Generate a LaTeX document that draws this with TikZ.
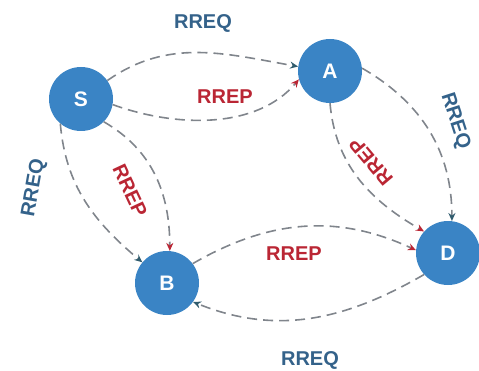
\documentclass[tikz,border=0pt]{standalone}
\usepackage{fontspec}
\setsansfont{Liberation Sans}
\usetikzlibrary{arrows.meta}
\definecolor{nodeBlue}{RGB}{58,132,197}
\definecolor{reqBlue}{RGB}{52,98,138}
\definecolor{repRed}{RGB}{186,38,52}
\definecolor{linkGray}{RGB}{128,133,140}
\definecolor{tipTeal}{RGB}{48,92,110}
\tikzset{
    font=\sffamily,
    >=Stealth,
    % Nodes
    station/.style={circle, fill=nodeBlue, text=white, minimum size=64pt, inner sep=0pt,
                    font=\sffamily\bfseries\fontsize{21}{21}\selectfont},
    % Flow & Labels
    flow/.style={line width=1.6pt, linkGray, dash pattern=on 10pt off 6pt},
    reqFlow/.style={flow, -{Stealth[length=8pt, width=7pt, color=tipTeal]}},
    repFlow/.style={flow, -{Stealth[length=8pt, width=7pt, color=repRed]}},
    lbl/.style={inner sep=0pt, font=\sffamily\bfseries\fontsize{20}{20}\selectfont},
    reqLbl/.style={lbl, text=reqBlue},
    repLbl/.style={lbl, text=repRed}
}

\begin{document}
\begin{tikzpicture}[x=1pt, y=1pt]
\useasboundingbox (0,0) rectangle (479,370);

\node[station] (S) at (81,271) {S};
\node[station] (A) at (330,299) {A};
\node[station] (B) at (167,87) {B};
\node[station] (D) at (448,117) {D};

% RREQ flooding
\draw[reqFlow] (S.35) to[out=35, in=170] (A.172);
\draw[reqFlow] (S.-130) to[out=-85, in=140] (B.140);
\draw[reqFlow] (A.5) to[out=-30, in=90] (D.83);
\draw[reqFlow] (D.222) to[out=210, in=-22] (B.-36);

% RREP back to source
\draw[repFlow] (S.-10) to[out=-20, in=230, looseness=0.9] (A.195);
\draw[repFlow] (S.-45) to[out=-30, in=90] (B.85);
\draw[repFlow] (A.-90) to[out=-85, in=150] (D.138);
\draw[repFlow] (B.37) to[out=30, in=155] (D.175);

\node[reqLbl] (reqSA) at (203,347) {RREQ};
\node[reqLbl, rotate=80] (reqSB) at (34,182) {RREQ};
\node[reqLbl, rotate=-72] (reqAD) at (455,249) {RREQ};
\node[reqLbl] (reqDB) at (310,10) {RREQ};

\node[repLbl] (repSA) at (225,273) {RREP};
\node[repLbl, rotate=-65] (repSB) at (130,179) {RREP};
\node[repLbl, rotate=130] (repAD) at (371,208) {RREP};
\node[repLbl] (repBD) at (294,116) {RREP};

\end{tikzpicture}
\end{document}
